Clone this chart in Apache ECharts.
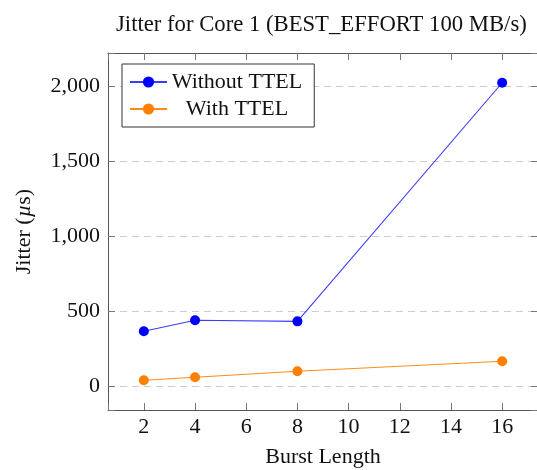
<!DOCTYPE html>
<html>
<head>
<meta charset="utf-8">
<script src="https://cdn.jsdelivr.net/npm/echarts@6/dist/echarts.min.js"></script>
<style>
  html, body { margin: 0; padding: 0; background: #fff; }
  #chart { width: 537px; height: 470px; }
</style>
</head>
<body>
<div id="chart"></div>
<script>
// Burst lengths on the x axis
const burstLengths = [2, 4, 8, 16];
// Jitter (µs) per burst length
const withoutTTEL = [367, 440, 433, 2025];
const withTTEL = [40, 60, 100, 167];
const seriesNames = ['Without TTEL', 'With TTEL'];
const xTicks = [2, 4, 6, 8, 10, 12, 14, 16];
const yTicks = [0, 500, 1000, 1500, 2000];

const serif = 'Liberation Serif, Times New Roman, serif';
const axisColor = '#555555';
const fs = 22;

function pairs(xs, ys) { return xs.map((x, i) => [x, ys[i]]); }

// Axis limits padded by 10% of the data span on both ends
const xMinData = Math.min(...burstLengths), xMaxData = Math.max(...burstLengths);
const xPad = (xMaxData - xMinData) * 0.1;
const allY = withoutTTEL.concat(withTTEL);
const yMinData = Math.min(...allY), yMaxData = Math.max(...allY);
const yPad = (yMaxData - yMinData) * 0.1;

const xLabel = v => xTicks.includes(v) ? String(v) : '';
const yLabel = v => yTicks.includes(v) ? v.toLocaleString('en-US') : '';

const chart = echarts.init(document.getElementById('chart'), null, { renderer: 'canvas' });

const baseX = {
  type: 'value',
  min: xMinData - xPad,
  max: xMaxData + xPad,
  splitNumber: 8,
  axisLine: { show: true, onZero: false, lineStyle: { color: axisColor, width: 1 } },
  axisTick: { show: true, inside: true, length: 7, lineStyle: { color: '#777', width: 1 } },
  splitLine: { show: false }
};
const baseY = {
  type: 'value',
  min: yMinData - yPad,
  max: yMaxData + yPad,
  splitNumber: 5,
  axisLine: { show: true, onZero: false, lineStyle: { color: axisColor, width: 1 } },
  axisTick: { show: true, inside: true, length: 7, lineStyle: { color: '#777', width: 1 } }
};

chart.setOption({
  animation: false,
  backgroundColor: '#ffffff',
  title: {
    text: 'Jitter for Core 1 (BEST_EFFORT 100 MB/s)',
    left: 111,
    top: 9,
    textStyle: { fontFamily: serif, fontSize: 22.7, fontWeight: 'normal', color: '#111' }
  },
  legend: {
    orient: 'vertical',
    left: 122,
    top: 64,
    padding: [7, 12, 7, 7],
    itemWidth: 37,
    itemHeight: 14,
    itemGap: 5,
    borderColor: '#333',
    borderWidth: 1,
    borderRadius: 0,
    backgroundColor: '#fff',
    data: seriesNames,
    formatter: name => '{c|' + name + '}',
    textStyle: {
      fontFamily: serif, fontSize: fs, color: '#111', lineHeight: 22,
      rich: { c: { width: 130, align: 'center', fontFamily: serif, fontSize: fs, lineHeight: 22, color: '#111' } }
    }
  },
  grid: { left: 108, top: 53, width: 430, height: 357, show: false, outerBoundsMode: 'none', containLabel: false },
  xAxis: [
    Object.assign({}, baseX, {
      position: 'bottom',
      name: 'Burst Length',
      nameLocation: 'middle',
      nameGap: 36,
      nameTextStyle: { fontFamily: serif, fontSize: fs, color: '#111' },
      axisLabel: { show: true, formatter: xLabel, margin: 6, fontFamily: serif, fontSize: fs, color: '#111' }
    }),
    Object.assign({}, baseX, { position: 'top', axisLabel: { show: false } })
  ],
  yAxis: [
    Object.assign({}, baseY, {
      position: 'left',
      name: 'Jitter ({i|µ}s)',
      nameLocation: 'middle',
      nameGap: 73,
      nameRotate: 90,
      nameTextStyle: {
        fontFamily: serif, fontSize: fs, color: '#111',
        rich: { i: { fontFamily: serif, fontSize: fs, fontStyle: 'italic', color: '#111' } }
      },
      axisLabel: { show: true, formatter: yLabel, margin: 8, fontFamily: serif, fontSize: fs, color: '#111' },
      splitLine: {
        show: true,
        lineStyle: { color: '#cccccc', width: 1, type: [7, 5] }
      }
    }),
    Object.assign({}, baseY, { position: 'right', axisLabel: { show: false }, splitLine: { show: false } })
  ],
  series: [
    {
      name: seriesNames[0],
      type: 'line',
      data: pairs(burstLengths, withoutTTEL),
      symbol: 'circle',
      symbolSize: 10,
      itemStyle: { color: '#0000ff' },
      lineStyle: { color: '#3c3cff', width: 1.1 },
      z: 3
    },
    {
      name: seriesNames[1],
      type: 'line',
      data: pairs(burstLengths, withTTEL),
      symbol: 'circle',
      symbolSize: 10,
      itemStyle: { color: '#ff7f00' },
      lineStyle: { color: '#ff8c1a', width: 1.1 },
      z: 3
    }
  ]
});
</script>
</body>
</html>
